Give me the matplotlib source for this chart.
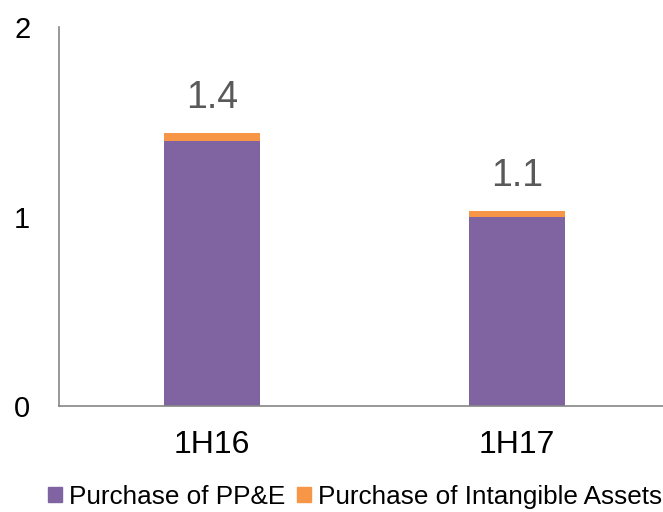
import matplotlib.pyplot as plt
from matplotlib.patches import Patch

plt.rcParams['font.family'] = ['Liberation Sans', 'DejaVu Sans']

# capex by half-year, stacked
periods = ['1H16', '1H17']
ppe = [1.40, 1.00]
intangibles = [0.04, 0.03]
total_labels = ['1.4', '1.1']

purple = '#8064A2'
orange = '#F79646'

fig = plt.figure(figsize=(6.63, 5.12), dpi=100)
ax = fig.add_axes([0.0897, 0.207, 0.92, 0.740])

x = range(len(periods))
ax.bar(x, ppe, width=0.315, color=purple)
ax.bar(x, intangibles, width=0.315, bottom=ppe, color=orange)

for i, lab in enumerate(total_labels):
    top = ppe[i] + intangibles[i]
    ax.text(i, top + 0.09, lab, ha='center', va='bottom', fontsize=27, color='#595959')

ax.set_xlim(-0.5, 1.5)
ax.set_ylim(0, 2)
ax.set_yticks([0, 1, 2])
ax.set_xticks(list(x))
ax.set_xticklabels(periods)
ax.tick_params(axis='both', length=0, colors='black')
ax.tick_params(axis='y', pad=21, labelsize=21)
ax.tick_params(axis='x', pad=17, labelsize=23)

for s in ['top', 'right']:
    ax.spines[s].set_visible(False)
for s in ['left', 'bottom']:
    ax.spines[s].set_color('#868686')
    ax.spines[s].set_linewidth(1.2)

handles = [Patch(color=purple, label='Purchase of PP&E'),
           Patch(color=orange, label='Purchase of Intangible Assets')]
fig.legend(handles=handles, loc='center', bbox_to_anchor=(0.535, 0.030), ncol=2,
           frameon=False, fontsize=18.8, handlelength=0.55, handleheight=0.55,
           handletextpad=0.25, columnspacing=0.45, borderpad=0, borderaxespad=0)

fig.savefig('out.png', dpi=100)
